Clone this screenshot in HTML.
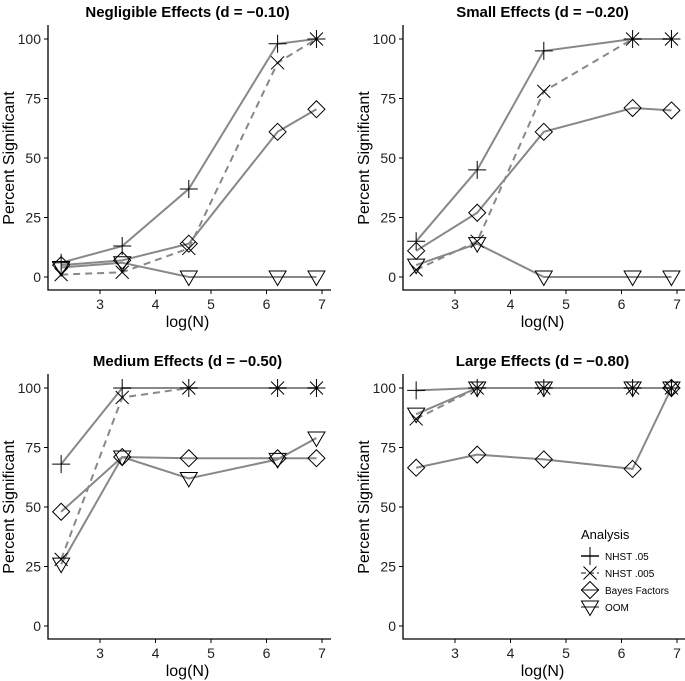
<!DOCTYPE html>
<html><head><meta charset="utf-8"><style>
body{margin:0;background:#fff}
svg{display:block;font-family:"Liberation Sans",Arial,sans-serif}
</style></head><body>
<svg id="c" width="685" height="681"></svg>
<script>
const xVals=[2.3,3.4,4.6,6.2,6.9];
const xTicks=[3,4,5,6,7];
const yTicks=[0,25,50,75,100];
const seriesNames=["NHST .05","NHST .005","Bayes Factors","OOM"];
const panelTitles=["Negligible Effects (d = \u22120.10)","Small Effects (d = \u22120.20)","Medium Effects (d = \u22120.50)","Large Effects (d = \u22120.80)"];
const negNHST05=[6,13,37,98,100], negNHST005=[1,2,12,90,100], negBF=[5,7,14,61,70.5], negOOM=[4,6,0,0,0];
const smlNHST05=[15,45,95,100,100], smlNHST005=[3,15,78,100,100], smlBF=[11,27,61,71,70], smlOOM=[5,14,0,0,0];
const medNHST05=[68,100,100,100,100], medNHST005=[28,96,100,100,100], medBF=[48,71,70.5,70.5,70.5], medOOM=[26,71,62,70,79];
const lrgNHST05=[99,100,100,100,100], lrgNHST005=[87,100,100,100,100], lrgBF=[66.5,72,70,66,100], lrgOOM=[89,100,100,100,100];
const panelData=[[negNHST05,negNHST005,negBF,negOOM],[smlNHST05,smlNHST005,smlBF,smlOOM],[medNHST05,medNHST005,medBF,medOOM],[lrgNHST05,lrgNHST005,lrgBF,lrgOOM]];
const NS="http://www.w3.org/2000/svg";
const svg=document.getElementById('c');
function mk(tag,attrs,parent){const e=document.createElementNS(NS,tag);for(const k in attrs)e.setAttribute(k,attrs[k]);(parent||svg).appendChild(e);return e;}
function marker(g,type,cx,cy){
  const st={stroke:"#000","stroke-width":1,fill:"none"};
  let e;const r=9;
  if(type===0){e=mk('path',Object.assign({d:`M${cx-r} ${cy}H${cx+r}M${cx} ${cy-r}V${cy+r}`},st),g);}
  else if(type===1){const s=6.5;e=mk('path',Object.assign({d:`M${cx-s} ${cy-s}L${cx+s} ${cy+s}M${cx-s} ${cy+s}L${cx+s} ${cy-s}`},st),g);}
  else if(type===2){e=mk('path',Object.assign({d:`M${cx} ${cy-8.5}L${cx+8.5} ${cy}L${cx} ${cy+8.5}L${cx-8.5} ${cy}Z`},st),g);}
  else {e=mk('path',Object.assign({d:`M${cx-8.5} ${cy-6}L${cx+8.5} ${cy-6}L${cx} ${cy+8.5}Z`},st),g);}
  return e;
}
const layouts=[{l:48,x3:100,x7:322,y100:39,y0:277,title:"negligible"},{l:403,x3:455,x7:677,y100:39,y0:277,title:"small"},{l:48,x3:100,x7:322,y100:388,y0:626,title:"medium"},{l:403,x3:455,x7:677,y100:388,y0:626,title:"large"}];
layouts.forEach((L,pi)=>{
  const g=mk('g',{});
  
  
  const sx=v=>L.x3+(v-3)*(L.x7-L.x3)/4;
  const sy=v=>L.y0+(v-0)*(L.y100-L.y0)/100;
  const axB=L.y0+13, right=L.x7+5;
  const t=mk('text',{x:(L.l+right)/2,y:L.y100-22,"text-anchor":"middle","font-size":15,"font-weight":"bold"},g);t.textContent=panelTitles[pi];
  
  const ya=mk('path',{d:`M${L.l} ${L.y100-14}V${axB}H${right+4}`,stroke:"#000","stroke-width":1.3,fill:"none"},g);
  
  yTicks.forEach(v=>{mk('line',{x1:L.l-4,x2:L.l,y1:sy(v),y2:sy(v),stroke:"#000"},g);
    const tt=mk('text',{x:L.l-7,y:sy(v)+5,"text-anchor":"end","font-size":14,fill:"#222"},g);tt.textContent=v;
    });
  xTicks.forEach(v=>{mk('line',{x1:sx(v),x2:sx(v),y1:axB,y2:axB+4,stroke:"#000"},g);
    const tt=mk('text',{x:sx(v),y:axB+19,"text-anchor":"middle","font-size":14,fill:"#222"},g);tt.textContent=v;
    });
  const xt=mk('text',{x:(L.l+right)/2,y:axB+37,"text-anchor":"middle","font-size":16},g);xt.textContent="log(N)";
  
  const yy=(L.y100+L.y0)/2, yx=L.l-34;
  const ytl=mk('text',{x:yx,y:yy,"text-anchor":"middle","font-size":16,transform:`rotate(-90 ${yx} ${yy})`},g);ytl.textContent="Percent Significant";
  
  panelData[pi].forEach((vals,si)=>{
    const d=vals.map((v,i)=>(i?'L':'M')+sx(xVals[i])+' '+sy(v)).join('');
    const ln=mk('path',{d:d,stroke:"#888","stroke-width":2,fill:"none","stroke-dasharray":si===1?"7 5":"none"},g);
    
    
  });
  panelData[pi].forEach((vals,si)=>{
    vals.forEach((v,i)=>{const m=marker(g,si,sx(xVals[i]),sy(v));
      
      });
  });
});
const lg=mk('g',{});


const lt=mk('text',{x:581,y:539,"font-size":13},lg);lt.textContent="Analysis";
seriesNames.forEach((n,i)=>{const y=556+i*17;
  mk('line',{x1:581,x2:599,y1:y,y2:y,stroke:"#888","stroke-width":2,"stroke-dasharray":i===1?"5 3":"none"},lg);
  marker(lg,i,590,y);
  const t=mk('text',{x:605,y:y+4,"font-size":10},lg);t.textContent=n;
  });
</script>
</body></html>
